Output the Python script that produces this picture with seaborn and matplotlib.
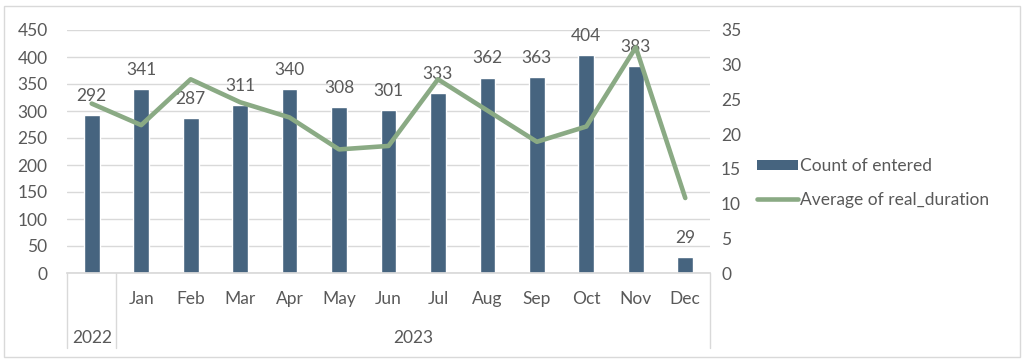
import numpy as np
import pandas as pd
import matplotlib
matplotlib.use("Agg")
import matplotlib.pyplot as plt
import matplotlib.transforms as mtransforms
from matplotlib.patches import Patch, Rectangle
from matplotlib.lines import Line2D
import seaborn as sns

# data
months = ["", "Jan", "Feb", "Mar", "Apr", "May", "Jun", "Jul", "Aug", "Sep", "Oct", "Nov", "Dec"]
years = ["2022", "2023"]
year_spans = [(0, 0), (1, 12)]  # first / last category index of each year
count_entered = [292, 341, 287, 311, 340, 308, 301, 333, 362, 363, 404, 383, 29]
avg_real_duration = [24.4, 21.3, 27.9, 24.6, 22.4, 17.8, 18.3, 27.9, 23.4, 18.9, 21.1, 32.5, 10.8]

BAR_COLOR = "#46647f"
LINE_COLOR = "#8aaa84"
TEXT_COLOR = "#595959"
GRID_COLOR = "#d9d9d9"
FS = 12.5

sns.set_theme(style="white")
plt.rcParams["font.family"] = ["Lato", "DejaVu Sans"]

df = pd.DataFrame({
    "pos": np.arange(len(months)),
    "count": count_entered,
    "avg": avg_real_duration,
})

fig = plt.figure(figsize=(10.24, 3.59), dpi=100)
ax = fig.add_axes([67 / 1024, 1 - 273 / 359, (710 - 67) / 1024, (273 - 30) / 359])

sns.barplot(data=df, x="pos", y="count", color=BAR_COLOR, width=0.32,
            saturation=1, native_scale=True, ax=ax)
ax.bar_label(ax.containers[0], padding=8, fontsize=FS, color=TEXT_COLOR)

ax.set_xlim(-0.5, len(months) - 0.5)
ax.set_ylim(0, 450)
ax.set_yticks(np.arange(0, 451, 50))
ax.set_xticks([])
ax.set_xlabel("")
ax.set_ylabel("")
ax.grid(axis="y", color=GRID_COLOR, linewidth=1)
ax.set_axisbelow(True)
for side in ["top", "right", "left"]:
    ax.spines[side].set_visible(False)
ax.spines["bottom"].set_color(GRID_COLOR)
ax.tick_params(axis="y", length=0, pad=14, labelsize=FS, labelcolor=TEXT_COLOR)

ax2 = ax.twinx()
sns.lineplot(data=df, x="pos", y="avg", color=LINE_COLOR, linewidth=3.3, ax=ax2)
ax2.set_ylim(0, 35)
ax2.set_yticks(np.arange(0, 36, 5))
ax2.set_ylabel("")
ax2.set_xlabel("")
ax2.grid(False)
for side in ["top", "right", "left", "bottom"]:
    ax2.spines[side].set_visible(False)
ax2.tick_params(axis="y", length=0, pad=8, labelsize=FS, labelcolor=TEXT_COLOR)
ax2.set_xlim(-0.5, len(months) - 0.5)

# two-level category axis
trans = mtransforms.blended_transform_factory(ax.transData, ax.transAxes)
axh = 273 - 30
for i, m in enumerate(months):
    ax.text(i, -(299 - 273) / axh, m, transform=trans, ha="center", va="center",
            fontsize=FS, color=TEXT_COLOR)
for y, (a, b) in zip(years, year_spans):
    ax.text((a + b) / 2, -(338 - 273) / axh, y, transform=trans, ha="center", va="center",
            fontsize=FS, color=TEXT_COLOR)
bottom = -(348 - 273) / axh
for xb in [-0.5] + [b + 0.5 for _, b in year_spans]:
    ax.plot([xb, xb], [0, bottom], transform=trans, color=GRID_COLOR, linewidth=1, clip_on=False)

handles = [Patch(facecolor=BAR_COLOR, edgecolor="none"),
           Line2D([0], [0], color=LINE_COLOR, linewidth=3.3)]
fig.legend(handles, ["Count of entered", "Average of real_duration"],
           loc="center left", bbox_to_anchor=(741 / 1024, 1 - 183 / 359),
           frameon=False, fontsize=FS, labelcolor=TEXT_COLOR,
           handlelength=2.4, handleheight=0.5, handletextpad=0.1, labelspacing=1.0)

fig.patches.append(Rectangle((4 / 1024, 2 / 359), 1016 / 1024, 351 / 359,
                             transform=fig.transFigure, fill=False,
                             edgecolor=GRID_COLOR, linewidth=1))

fig.savefig("out.png", dpi=100)
